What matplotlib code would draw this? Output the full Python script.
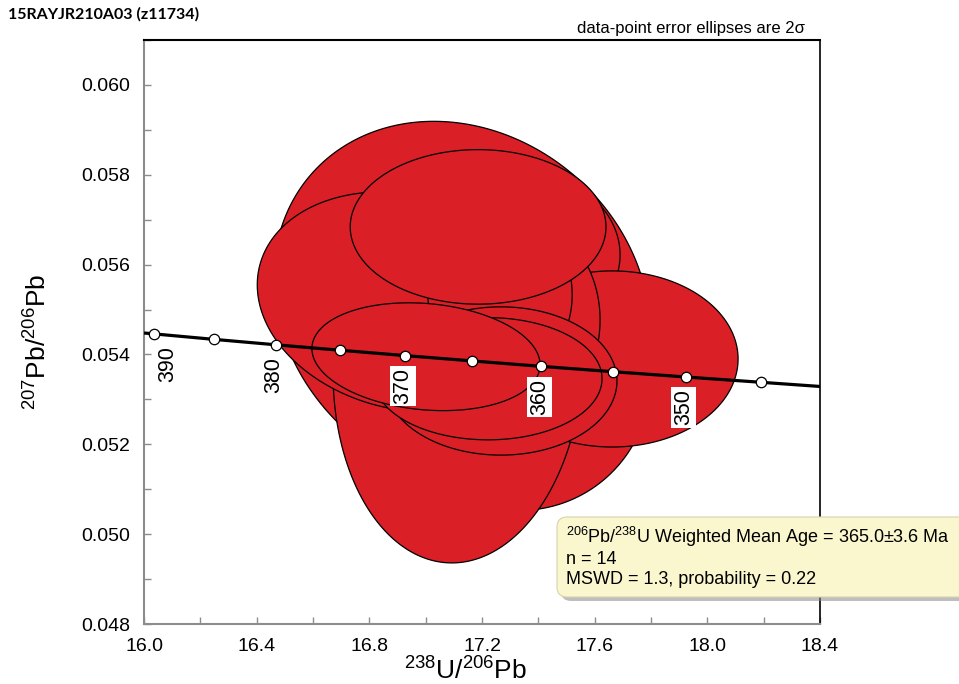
import numpy as np
import matplotlib.pyplot as plt
from matplotlib.ticker import MultipleLocator, FormatStrFormatter
from matplotlib.patches import FancyBboxPatch

plt.rcParams['font.family'] = ['Liberation Sans', 'DejaVu Sans']
plt.rcParams['mathtext.fontset'] = 'custom'
plt.rcParams['mathtext.rm'] = 'Liberation Sans'
plt.rcParams['mathtext.it'] = 'Liberation Sans:italic'

# 2 sigma error ellipses, in drawing order (238U/206Pb, 207Pb/206Pb, rho)
ell_x = [17.086, 17.299, 17.129, 17.335, 17.115, 17.264, 17.662,
         16.927, 17.335, 17.264, 17.186, 17.267, 17.221, 17.001]
ell_sx = [0.320, 0.249, 0.668, 0.462, 0.444, 0.426, 0.447,
          0.525, 0.284, 0.256, 0.454, 0.412, 0.405, 0.405]
ell_y = [0.05455, 0.05399, 0.05511, 0.05343, 0.05381, 0.05622, 0.05390,
         0.05517, 0.05477, 0.05533, 0.05684, 0.05341, 0.05346, 0.05395]
ell_sy = [0.00156, 0.00123, 0.00408, 0.00290, 0.00445, 0.00200, 0.00196,
          0.00245, 0.00223, 0.00189, 0.00172, 0.00165, 0.00136, 0.00120]
ell_rho = [0, 0, -0.15, 0, 0.05, 0, 0, -0.155, 0, 0, 0, 0, 0, -0.15]

# concordia age markers (Ma)
ages = [390, 385, 380, 375, 370, 365, 360, 355, 350, 345]
conc_x = [16.034, 16.249, 16.469, 16.695, 16.927, 17.166, 17.411, 17.664, 17.923, 18.190]
conc_y = [0.054459, 0.054336, 0.054215, 0.054095, 0.053975,
          0.053856, 0.053735, 0.053617, 0.053499, 0.053381]
conc_start = (16.0, 0.054478)
conc_end = (18.4, 0.053288)
labelled = [390, 380, 370, 360, 350]

fig = plt.figure(figsize=(9.59, 6.84), dpi=100)
ax = fig.add_axes([0.1502, 0.0877, 0.7049, 0.8538])

t = np.linspace(0, 2 * np.pi, 300)
for x, sx, y, sy, r in zip(ell_x, ell_sx, ell_y, ell_sy, ell_rho):
    ex = x + sx * np.cos(t)
    ey = y + sy * (r * np.cos(t) + np.sqrt(1 - r * r) * np.sin(t))
    ax.fill(ex, ey, facecolor='#da1f26', edgecolor='black', lw=0.9, zorder=2)

line_x = [conc_start[0]] + conc_x + [conc_end[0]]
line_y = [conc_start[1]] + conc_y + [conc_end[1]]
ax.plot(line_x, line_y, color='black', lw=2.3, zorder=3, solid_capstyle='butt')
ax.plot(conc_x, conc_y, 'o', ms=7.5, mfc='white', mec='black', mew=0.9, zorder=4)

for age, x, y in zip(ages, conc_x, conc_y):
    if age not in labelled:
        continue
    dx = 10 if age == 390 else -1.5
    ax.annotate(str(age), (x, y), xytext=(dx, -22), textcoords='offset points',
                rotation=90, ha='center', va='center', fontsize=15.5,
                bbox=dict(boxstyle='square,pad=0.1', fc='white', ec='none'), zorder=5)

ax.set_xlim(16.0, 18.4)
ax.set_ylim(0.048, 0.061)
ax.set_xticks(np.arange(16.0, 18.41, 0.4))
ax.set_yticks(np.arange(0.048, 0.0605, 0.002))
ax.xaxis.set_minor_locator(MultipleLocator(0.2))
ax.yaxis.set_minor_locator(MultipleLocator(0.001))
ax.xaxis.set_major_formatter(FormatStrFormatter('%.1f'))
ax.yaxis.set_major_formatter(FormatStrFormatter('%.3f'))
ax.tick_params(which='both', direction='in', length=5, width=1, color='#8c8c8c',
               labelsize=14, pad=10)

for s in ['left', 'bottom']:
    ax.spines[s].set_color('#8c8c8c')
    ax.spines[s].set_linewidth(1.5)
ax.spines['top'].set_linewidth(1.5)
ax.spines['right'].set_linewidth(1.2)

ax.set_xlabel(r'$^{238}$U/$^{206}$Pb', fontsize=19)
ax.xaxis.set_label_coords(0.476, -0.057)
ax.set_ylabel(r'$^{207}$Pb/$^{206}$Pb', fontsize=19)
ax.yaxis.set_label_coords(-0.137, 0.483)

fig.text(8 / 959, 1 - 14 / 684, '15RAYJR210A03 (z11734)', fontweight='bold',
         family=['Lato', 'DejaVu Sans'], fontsize=11.5, va='center')
fig.text(577 / 959, 1 - 28 / 684, 'data-point error ellipses are 2σ',
         fontsize=12, va='center')

# results box, drawn in pixel units on an overlay
ov = fig.add_axes([0, 0, 1, 1], zorder=10)
ov.set_xlim(0, 959)
ov.set_ylim(684, 0)
ov.axis('off')
ov.patch.set_alpha(0)
ov.add_patch(FancyBboxPatch((561, 521), 420, 80, boxstyle='round,pad=0,rounding_size=10',
                            fc='#8a8a8a', ec='none', alpha=0.55))
ov.add_patch(FancyBboxPatch((557, 517), 420, 80, boxstyle='round,pad=0,rounding_size=10',
                            fc='#faf7cf', ec='#d6d3ae', lw=0.8))
stats = [r'$^{206}$Pb/$^{238}$U Weighted Mean Age = 365.0±3.6 Ma',
         'n = 14',
         'MSWD = 1.3, probability = 0.22']
for i, s in enumerate(stats):
    ov.text(566, 543 + 20.5 * i, s, fontsize=13, va='baseline')

fig.savefig('out.png', dpi=100)
